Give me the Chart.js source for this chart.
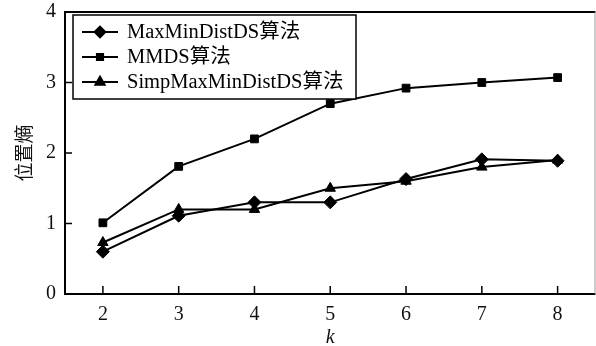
<!DOCTYPE html>
<html>
<head>
<meta charset="utf-8">
<script src="https://cdn.jsdelivr.net/npm/chart.js@4"></script>
<style>
  html, body { margin: 0; padding: 0; background: #fff; }
  #wrap { width: 596px; height: 346px; overflow: hidden; }
</style>
</head>
<body>
<div id="wrap"><canvas id="entropyChart" width="603" height="346"></canvas></div>
<script>
const kValues = ['2', '3', '4', '5', '6', '7', '8'];
const maxMinDist = [0.6, 1.11, 1.3, 1.3, 1.63, 1.91, 1.89];
const mmds = [1.01, 1.81, 2.2, 2.7, 2.92, 3.0, 3.07];
const simpMaxMinDist = [0.73, 1.2, 1.2, 1.5, 1.6, 1.8, 1.9];
const yTicks = [0, 1, 2, 3, 4];

const serif = '"Liberation Serif", "Times New Roman", "Noto Sans CJK SC", serif';

// frame + inward ticks, like the original plot
const framePlugin = {
    id: 'frame',
    afterDraw(chart) {
        const ctx = chart.ctx;
        const a = chart.chartArea;
        const xs = chart.scales.x;
        const ys = chart.scales.y;
        ctx.save();
        ctx.strokeStyle = '#000';
        ctx.lineWidth = 2;
        ctx.beginPath();
        ctx.moveTo(a.right, a.top);
        ctx.lineTo(a.left, a.top);
        ctx.lineTo(a.left, a.bottom);
        ctx.lineTo(a.right, a.bottom);
        ctx.stroke();
        ctx.strokeStyle = '#999';
        ctx.lineWidth = 1;
        ctx.beginPath();
        ctx.moveTo(a.right - 0.5, a.top);
        ctx.lineTo(a.right - 0.5, a.bottom);
        ctx.stroke();

        ctx.strokeStyle = '#000';
        ctx.lineWidth = 1.5;
        ctx.beginPath();
        kValues.forEach((k, i) => {
            const px = xs.getPixelForValue(i);
            ctx.moveTo(px, a.bottom);
            ctx.lineTo(px, a.bottom - 8);
        });
        yTicks.forEach(v => {
            const py = ys.getPixelForValue(v);
            ctx.moveTo(a.left, py);
            ctx.lineTo(a.left + 7, py);
        });
        ctx.stroke();
        ctx.restore();
    }
};

// legend box in the upper left of the plot
const boxLegend = {
    id: 'boxLegend',
    afterDatasetsDraw(chart) {
        const ctx = chart.ctx;
        const a = chart.chartArea;
        const x0 = a.left + 8, y0 = a.top + 3;
        const w = 283, h = 84;
        ctx.save();
        ctx.fillStyle = '#fff';
        ctx.fillRect(x0, y0, w, h);
        ctx.strokeStyle = '#000';
        ctx.lineWidth = 1.5;
        ctx.strokeRect(x0, y0, w, h);
        ctx.font = '20.5px ' + serif;
        ctx.textBaseline = 'middle';
        ctx.fillStyle = '#000';
        chart.data.datasets.forEach((ds, i) => {
            const cy = y0 + 17 + i * 25;
            ctx.lineWidth = 1.8;
            ctx.beginPath();
            ctx.moveTo(x0 + 9, cy);
            ctx.lineTo(x0 + 45, cy);
            ctx.stroke();
            Chart.helpers.drawPoint(ctx, {
                pointStyle: ds.pointStyle,
                radius: ds.pointStyle === 'rect' ? 4.5 : 5.5,
                rotation: 0,
                borderWidth: 1
            }, x0 + 27, cy);
            ctx.fillText(ds.label, x0 + 54, cy + 1);
        });
        ctx.restore();
    }
};

function makeSet(label, data, style, radius) {
    return {
        label: label,
        data: data,
        borderColor: '#000',
        backgroundColor: '#000',
        borderWidth: 2,
        pointStyle: style,
        pointRadius: radius,
        pointBorderWidth: 1,
        tension: 0
    };
}

new Chart(document.getElementById('entropyChart'), {
    type: 'line',
    data: {
        labels: kValues,
        datasets: [
            makeSet('MaxMinDistDS算法', maxMinDist, 'rectRot', 6.5),
            makeSet('MMDS算法', mmds, 'rect', 5.5),
            makeSet('SimpMaxMinDistDS算法', simpMaxMinDist, 'triangle', 6)
        ]
    },
    options: {
        responsive: false,
        animation: false,
        layout: { padding: { top: 12, right: 0, left: 0, bottom: 0 } },
        plugins: { legend: { display: false }, tooltip: { enabled: false } },
        scales: {
            x: {
                offset: true,
                grid: { display: false, drawTicks: false },
                border: { display: false },
                ticks: { color: '#111', font: { family: serif, size: 20 }, padding: 9 },
                title: { display: true, text: 'k', color: '#111', font: { family: serif, size: 20, style: 'italic', lineHeight: 0.8 }, padding: { top: 0, bottom: 0 } },
                afterFit(s) { s.height = 52; }
            },
            y: {
                min: 0,
                max: 4,
                afterBuildTicks(s) { s.ticks = yTicks.map(v => ({ value: v })); },
                grid: { display: false, drawTicks: false },
                border: { display: false },
                ticks: { color: '#111', font: { family: serif, size: 20 }, padding: 9 },
                title: { display: true, text: '位置熵', color: '#111', font: { family: '"Noto Sans CJK SC", serif', size: 19 }, padding: { top: 12, bottom: 0 } },
                afterFit(s) {
                    s.width = 65;
                    s.paddingTop = 0;
                    s.paddingBottom = 0;
                }
            }
        }
    },
    plugins: [framePlugin, boxLegend]
});
</script>
</body>
</html>
